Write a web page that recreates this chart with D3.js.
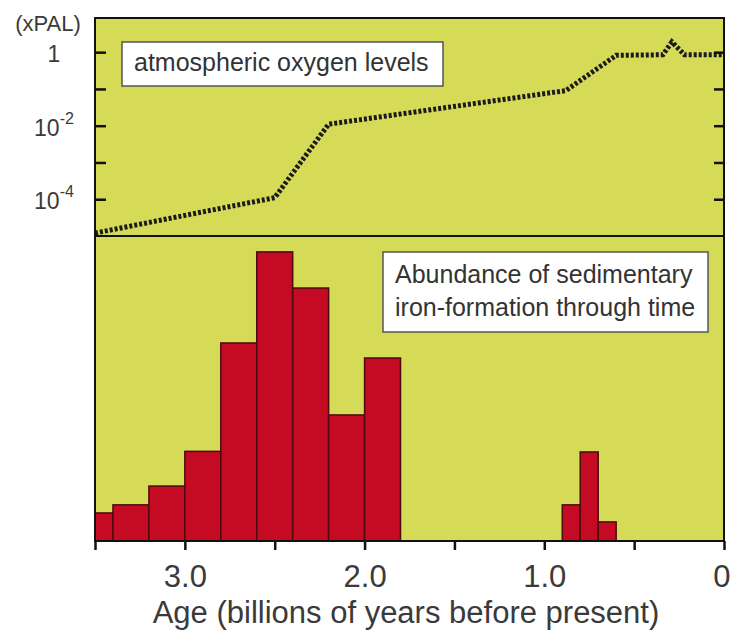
<!DOCTYPE html>
<html>
<head>
<meta charset="utf-8">
<script src="https://cdn.jsdelivr.net/npm/d3@7"></script>
<style>
  body { margin: 0; background: #fff; }
  svg { display: block; font-family: "Liberation Sans", Arial, sans-serif; }
</style>
</head>
<body>
<svg id="chart"></svg>
<script>
// atmospheric oxygen curve (age in Ga, level in PAL)
const o2Age = [3.5, 2.5, 2.2, 0.88, 0.6, 0.34, 0.29, 0.22, 0];
const o2Level = [1.2e-5, 1.1e-4, 1.1e-2, 0.09, 0.82, 0.85, 1.9, 0.85, 0.85];

// iron-formation histogram bins (older edge, younger edge, relative abundance)
const binOld = [3.5, 3.4, 3.2, 3.0, 2.8, 2.6, 2.4, 2.2, 2.0, 0.9, 0.8, 0.7];
const binYoung = [3.4, 3.2, 3.0, 2.8, 2.6, 2.4, 2.2, 2.0, 1.8, 0.8, 0.7, 0.6];
const abundance = [9.7, 12.5, 19, 31, 68.5, 100, 87.5, 43.6, 63.3, 12.5, 30.8, 6.6];

const ageTicks = [3.5, 3.0, 2.5, 2.0, 1.5, 1.0, 0.5, 0];
const levelTicks = [1, 1e-1, 1e-2, 1e-3, 1e-4];
const levelLabels = [{ v: 1, base: "1", exp: "" }, { v: 1e-2, base: "10", exp: "-2" }, { v: 1e-4, base: "10", exp: "-4" }];

const W = 731, H = 633;
const pLeft = 95, pRight = 724, pTop = 18, pMid = 236, pBottom = 541;
const bg = "#d5db57";

const svg = d3.select("#chart").attr("width", W).attr("height", H);

const x = d3.scaleLinear().domain([3.5, 0]).range([pLeft, pRight]);
const yO = d3.scaleLog().domain([1e-5, 8.5]).range([pMid, pTop]);
const yA = d3.scaleLinear().domain([0, 105.5]).range([pBottom, pMid]);

// panel background
svg.append("rect").attr("x", pLeft).attr("y", pTop).attr("width", pRight - pLeft).attr("height", pBottom - pTop).attr("fill", bg);

// bars
const bars = binOld.map((d, i) => ({ a: d, b: binYoung[i], v: abundance[i] }));
svg.append("g").selectAll("rect").data(bars).join("rect")
  .attr("x", d => x(d.a))
  .attr("width", d => x(d.b) - x(d.a))
  .attr("y", d => yA(d.v))
  .attr("height", d => yA(0) - yA(d.v))
  .attr("fill", "#c50a24")
  .attr("stroke", "#4d0a0e")
  .attr("stroke-width", 1.5);

// oxygen line
const pts = o2Age.map((d, i) => [d, o2Level[i]]);
svg.append("path")
  .datum(pts)
  .attr("fill", "none")
  .attr("stroke", "#1b1b1b")
  .attr("stroke-width", 5)
  .attr("stroke-dasharray", "3,2")
  .attr("d", d3.line().x(d => x(d[0])).y(d => yO(d[1])));

// legend boxes
function legend(x0, y0, w, h, lines, baseY, lineGap) {
  svg.append("rect").attr("x", x0).attr("y", y0).attr("width", w).attr("height", h)
    .attr("fill", "#fff").attr("stroke", "#555").attr("stroke-width", 1.5);
  lines.forEach((t, i) => {
    svg.append("text").attr("x", x0 + 12).attr("y", baseY + i * lineGap)
      .attr("font-size", 25).attr("fill", "#333").text(t);
  });
}
legend(122, 42, 321, 44, ["atmospheric oxygen levels"], 71, 0);
legend(383, 252, 325, 80, ["Abundance of sedimentary", "iron-formation through time"], 283, 33);

// frame
svg.append("rect").attr("x", pLeft).attr("y", pTop).attr("width", pRight - pLeft).attr("height", pBottom - pTop)
  .attr("fill", "none").attr("stroke", "#111").attr("stroke-width", 2);
svg.append("line").attr("x1", pLeft).attr("x2", pRight).attr("y1", pMid).attr("y2", pMid)
  .attr("stroke", "#111").attr("stroke-width", 2);

// y ticks (inside, both sides of the top panel)
svg.append("g").attr("transform", `translate(${pLeft},0)`)
  .call(d3.axisRight(yO).tickValues(levelTicks).tickSize(11).tickFormat(""))
  .call(g => g.select(".domain").remove())
  .selectAll("line").attr("stroke", "#111").attr("stroke-width", 2.5);
svg.append("g").attr("transform", `translate(${pRight},0)`)
  .call(d3.axisLeft(yO).tickValues(levelTicks).tickSize(10).tickFormat(""))
  .call(g => g.select(".domain").remove())
  .selectAll("line").attr("stroke", "#111").attr("stroke-width", 2.5);

// y labels
const yl = svg.append("g").attr("fill", "#3a3a3a").attr("font-size", 23).attr("text-anchor", "middle");
levelLabels.forEach(d => {
  const t = yl.append("text").attr("x", 54).attr("y", yO(d.v) + 10);
  t.append("tspan").text(d.base);
  if (d.exp) t.append("tspan").attr("dy", -12).attr("font-size", 16).text(d.exp);
});
yl.append("text").attr("x", 48).attr("y", 31).attr("font-size", 22).text("(xPAL)");

// x axis
const xa = svg.append("g").attr("transform", `translate(0,${pBottom})`)
  .call(d3.axisBottom(x).tickValues(ageTicks).tickSize(9)
    .tickFormat(d => d % 1 === 0 ? (d === 0 ? "0" : d.toFixed(1)) : ""));
xa.select(".domain").remove();
xa.selectAll("line").attr("stroke", "#111").attr("stroke-width", 2.5);
xa.selectAll("text").attr("y", 46).attr("dy", null)
  .attr("font-size", 31).attr("fill", "#3a3a3a")
  .attr("font-family", "'Liberation Sans', Arial, sans-serif");
// keep the "0" at the right edge inside the window
xa.selectAll(".tick").filter(d => d === 0).select("text")
  .attr("text-anchor", "end").attr("x", 6);

svg.append("text").attr("x", 406).attr("y", 623).attr("text-anchor", "middle")
  .attr("font-size", 31).attr("fill", "#3a3a3a")
  .text("Age (billions of years before present)");
</script>
</body>
</html>
